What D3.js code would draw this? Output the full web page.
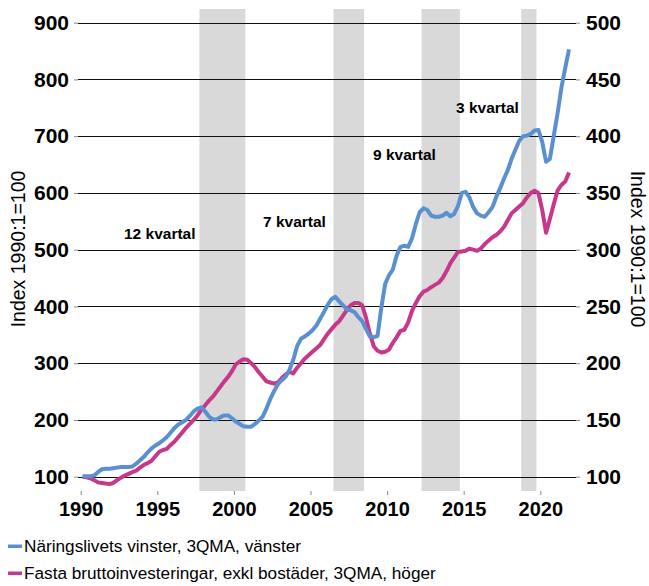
<!DOCTYPE html>
<html>
<head>
<meta charset="utf-8">
<script src="https://cdn.jsdelivr.net/npm/d3@7"></script>
<style>
  body { margin: 0; background: #fff; }
  text { font-family: "Liberation Sans", Arial, sans-serif; }
</style>
</head>
<body>
<div id="chart"></div>
<script>
// quarterly series, 1990Q1 .. 2021Q4
var startYear = 1990;

var vinster = [
  101, 101, 101, 102, 108, 113, 114, 114, 115, 116, 117, 117, 117, 118, 123, 129,
  135, 143, 150, 155, 159, 164, 170, 178, 186, 192, 196, 200, 207, 215, 220, 222,
  215, 206, 201, 201, 205, 208, 208, 203, 197, 193, 189, 188, 188, 193, 199, 206,
  220, 237, 251, 263, 270, 276, 288, 306, 330, 343, 347, 352, 358, 366, 378, 390,
  403, 413, 417, 409, 402, 395, 393, 390, 381, 374, 360, 347, 346, 348, 398, 440,
  455, 465, 490, 505, 507, 505, 520, 545, 566, 573, 570, 560, 558, 558, 560, 565,
  559, 563, 577, 600, 602, 592, 575, 564, 560, 558, 566, 575, 593, 608, 625, 640,
  660, 676, 692, 700, 701, 704, 710, 711, 690, 655, 660, 700, 740, 785, 820, 853
];

var investeringar = [
  100, 99.5, 98.6, 97, 95, 94.5, 94, 93.6, 94.5, 97, 99, 101, 102.5, 104, 105.3, 108,
  110.5, 112, 114, 118, 122, 123.5, 124.5, 128, 131, 135, 139, 143, 146.5, 150, 154, 159,
  163, 167, 170.5, 175, 179.5, 184, 188, 193, 199, 201.5, 203.5, 203, 200, 196.5, 192, 188,
  184, 183, 182, 183, 187, 190, 192.5, 191, 196, 200, 204, 207, 210, 213, 216, 221,
  226, 230, 234, 237, 242, 247, 251, 253, 253, 251, 240, 226, 215, 211, 209.5, 210,
  212, 218, 223, 228.5, 229.5, 236, 246, 253, 259, 263, 264.5, 267, 269, 271, 275, 281,
  288, 293, 298, 298.5, 299, 301, 300, 299, 301, 305, 308, 311, 313, 316, 320, 326,
  332, 335, 338, 341, 346, 350, 352, 350, 335, 315, 327, 340, 352, 357, 360, 368
];

// shaded periods (start, end in years) and their labels
var perioder = [[1997.75, 2000.75], [2006.5, 2008.5], [2012.25, 2014.75], [2018.75, 2019.75]];
var periodLabels = ["12 kvartal", "7 kvartal", "9 kvartal", "3 kvartal"];

var leftTicks = [100, 200, 300, 400, 500, 600, 700, 800, 900];
var rightTicks = [100, 150, 200, 250, 300, 350, 400, 450, 500];
var yearTicks = [1990, 1995, 2000, 2005, 2010, 2015, 2020];

var seriesNames = [
  "Näringslivets vinster, 3QMA, vänster",
  "Fasta bruttoinvesteringar, exkl bostäder, 3QMA, höger"
];
var colors = ["#5a8fd0", "#c8388a"];

var width = 649, height = 586;
var plotLeft = 78, plotRight = 576, plotTop = 9, plotBottom = 491;

var svg = d3.select("#chart")
  .append("svg")
  .attr("width", width)
  .attr("height", height);

var x = d3.scaleLinear()
  .domain([1990, 2020])
  .range([80.7, 540.3]);

var yLeft = d3.scaleLinear()
  .domain([100, 900])
  .range([476.7, 22.7]);

var yRight = d3.scaleLinear()
  .domain([100, 500])
  .range([476.7, 22.7]);

function qTime(i) { return startYear + (i + 0.5) / 4; }

// shaded bands
svg.append("g")
  .selectAll("rect")
  .data(perioder)
  .enter()
  .append("rect")
  .attr("x", function (d) { return x(d[0]); })
  .attr("width", function (d) { return x(d[1]) - x(d[0]); })
  .attr("y", plotTop)
  .attr("height", plotBottom - plotTop)
  .style("fill", "#d9d9d9");

// gridlines
svg.append("g")
  .selectAll("line")
  .data(leftTicks)
  .enter()
  .append("line")
  .attr("x1", plotLeft)
  .attr("x2", plotRight)
  .attr("y1", function (d) { return Math.round(yLeft(d)) + 0.5; })
  .attr("y2", function (d) { return Math.round(yLeft(d)) + 0.5; })
  .style("stroke", "#111")
  .style("stroke-width", 1);

// left axis
var gL = svg.append("g")
  .attr("transform", "translate(" + plotLeft + ",0)")
  .call(d3.axisLeft(yLeft).tickValues(leftTicks).tickSize(4).tickPadding(5));
gL.select(".domain").remove();
gL.selectAll(".tick line").style("stroke", "#888");
gL.selectAll("text").style("font-size", "21px").style("font-weight", "bold")
  .style("font-family", "Liberation Sans, Arial, sans-serif").style("fill", "#000");

// right axis
var gR = svg.append("g")
  .attr("transform", "translate(" + plotRight + ",0)")
  .call(d3.axisRight(yRight).tickValues(rightTicks).tickSize(4).tickPadding(6));
gR.select(".domain").remove();
gR.selectAll(".tick line").style("stroke", "#888");
gR.selectAll("text").style("font-size", "21px").style("font-weight", "bold")
  .style("font-family", "Liberation Sans, Arial, sans-serif").style("fill", "#000");

// bottom axis
var gB = svg.append("g")
  .attr("transform", "translate(0," + plotBottom + ")")
  .call(d3.axisBottom(x).tickValues(yearTicks).tickFormat(d3.format("d")).tickSize(4).tickPadding(7));
gB.select(".domain").remove();
gB.selectAll(".tick line").style("stroke", "#888");
gB.selectAll("text").style("font-size", "20px").style("font-weight", "bold")
  .style("font-family", "Liberation Sans, Arial, sans-serif").style("fill", "#000");

// axis titles
svg.append("text")
  .attr("transform", "translate(25," + 249 + ") rotate(-90)")
  .attr("text-anchor", "middle")
  .style("font-size", "19.5px")
  .text("Index 1990:1=100");

svg.append("text")
  .attr("transform", "translate(631," + 249 + ") rotate(90)")
  .attr("text-anchor", "middle")
  .style("font-size", "19.5px")
  .text("Index 1990:1=100");

// period labels
var labelPos = [[124, 239], [263, 227], [373, 160], [456, 113]];
svg.append("g")
  .selectAll("text")
  .data(periodLabels)
  .enter()
  .append("text")
  .attr("x", function (d, i) { return labelPos[i][0]; })
  .attr("y", function (d, i) { return labelPos[i][1]; })
  .style("font-size", "15.5px")
  .style("font-weight", "bold")
  .text(function (d) { return d; });

// lines
var lineL = d3.line()
  .x(function (d, i) { return x(qTime(i)); })
  .y(function (d) { return yLeft(d); });

var lineR = d3.line()
  .x(function (d, i) { return x(qTime(i)); })
  .y(function (d) { return yRight(d); });

svg.append("path")
  .datum(investeringar)
  .attr("d", lineR)
  .style("fill", "none")
  .style("stroke", colors[1])
  .style("stroke-width", 4)
  .style("stroke-linejoin", "round");

svg.append("path")
  .datum(vinster)
  .attr("d", lineL)
  .style("fill", "none")
  .style("stroke", colors[0])
  .style("stroke-width", 4)
  .style("stroke-linejoin", "round");

// legend
var legend = svg.append("g");
seriesNames.forEach(function (name, i) {
  var ly = 546 + i * 27;
  legend.append("rect")
    .attr("x", 8)
    .attr("y", ly - 1.5)
    .attr("width", 14)
    .attr("height", 3.5)
    .style("fill", colors[i]);
  legend.append("text")
    .attr("x", 24)
    .attr("y", ly)
    .attr("dy", "0.35em")
    .style("font-size", "17.2px")
    .text(name);
});
</script>
</body>
</html>
